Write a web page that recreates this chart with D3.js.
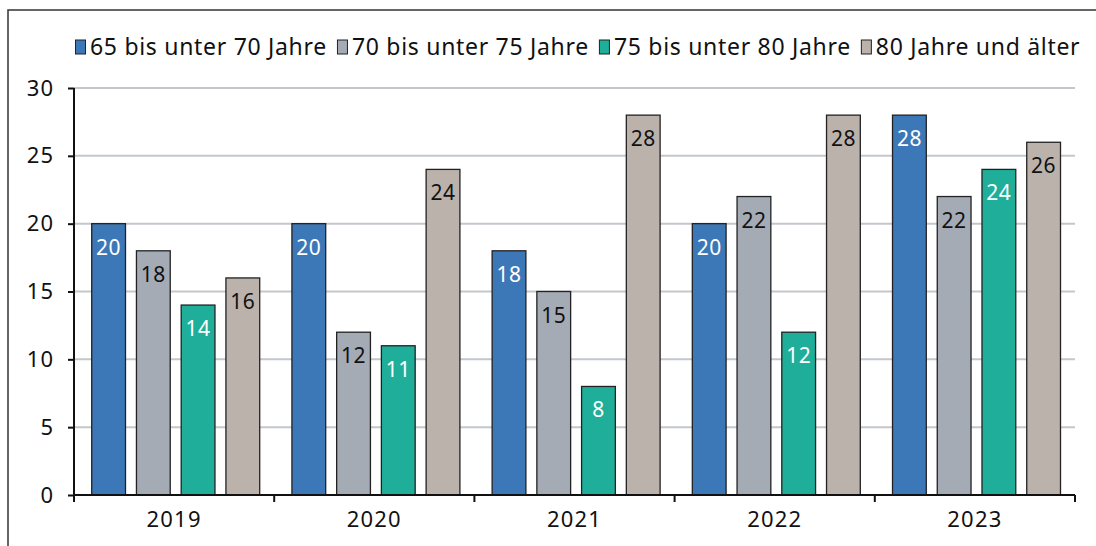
<!DOCTYPE html>
<html>
<head>
<meta charset="utf-8">
<script src="https://cdn.jsdelivr.net/npm/d3@7"></script>
<style>
  body { margin: 0; background: #fff; }
  svg text { font-family: "Noto Sans", Lato, sans-serif; }
</style>
</head>
<body>
<svg id="chart" width="1096" height="546"></svg>
<script>
const years = ['2019', '2020', '2021', '2022', '2023']
const seriesNames = ['65 bis unter 70 Jahre', '70 bis unter 75 Jahre', '75 bis unter 80 Jahre', '80 Jahre und älter']
const age65 = [20, 20, 18, 20, 28]
const age70 = [18, 12, 15, 22, 22]
const age75 = [14, 11, 8, 12, 24]
const age80 = [16, 24, 28, 28, 26]
const yTicks = [0, 5, 10, 15, 20, 25, 30]

const colors = ['#3c78b8', '#a4abb4', '#1fae9a', '#bab2ab']
const labelColors = ['#fff', '#111', '#fff', '#111']
const allSeries = [age65, age70, age75, age80]

const margin = { top: 88, right: 21, bottom: 51, left: 74 }
const width = 1096, height = 546
const svg = d3.select('#chart')

// outer frame
svg.append('path')
  .attr('d', `M8,${height} V10 H${width}`)
  .attr('fill', 'none').attr('stroke', '#333').attr('stroke-width', 1.5)

const x = d3.scaleBand().domain(years).range([margin.left, width - margin.right])
const xInner = d3.scaleBand().domain(d3.range(4)).range([0, x.bandwidth()])
  .paddingInner(0.245).paddingOuter(0.36).align(0.55)
const y = d3.scaleLinear().domain([0, 30]).range([height - margin.bottom, margin.top])

// gridlines
svg.append('g').selectAll('line').data(yTicks.filter(d => d > 0)).join('line')
  .attr('x1', margin.left).attr('x2', width - margin.right)
  .attr('y1', d => y(d)).attr('y2', d => y(d))
  .attr('stroke', '#c3c7cc').attr('stroke-width', 2)

// bars
const groups = svg.append('g').selectAll('g').data(years).join('g')
  .attr('transform', d => `translate(${x(d)},0)`)

groups.each(function (year, yi) {
  const g = d3.select(this)
  allSeries.forEach((s, si) => {
    const v = s[yi]
    g.append('rect')
      .attr('x', xInner(si)).attr('y', y(v))
      .attr('width', xInner.bandwidth()).attr('height', y(0) - y(v))
      .attr('fill', colors[si]).attr('stroke', '#222').attr('stroke-width', 1.3)
    g.append('text')
      .attr('x', xInner(si) + xInner.bandwidth() / 2).attr('y', y(v) + 31)
      .attr('text-anchor', 'middle').attr('font-size', 21).attr('letter-spacing', 0.5)
      .attr('fill', labelColors[si]).text(v)
  })
})

// y axis
const yAxis = svg.append('g').attr('transform', `translate(${margin.left},0)`)
  .call(d3.axisLeft(y).tickValues(yTicks).tickSize(6).tickPadding(14))
yAxis.select('.domain').attr('stroke', '#111').attr('stroke-width', 2).attr('d', `M0,${y(0)}V${y(30)}`)
yAxis.selectAll('.tick line').attr('stroke', '#111').attr('stroke-width', 2)
yAxis.selectAll('.tick text').attr('font-size', 22).attr('letter-spacing', 1).attr('fill', '#111')

// x axis
const xAxis = svg.append('g').attr('transform', `translate(0,${y(0)})`)
  .call(d3.axisBottom(x).tickSize(0).tickPadding(16))
xAxis.select('.domain').attr('stroke', '#111').attr('stroke-width', 2)
  .attr('d', `M${margin.left},0H${width - margin.right}`)
xAxis.selectAll('.tick text').attr('font-size', 22).attr('letter-spacing', 1.2).attr('fill', '#111')
const bounds = years.map(d => x(d)).concat([x(years[years.length - 1]) + x.bandwidth()])
xAxis.append('g').selectAll('line').data(bounds).join('line')
  .attr('x1', d => d).attr('x2', d => d).attr('y1', 0).attr('y2', 7)
  .attr('stroke', '#111').attr('stroke-width', 2)

// legend
const legend = svg.append('g').attr('transform', 'translate(75,47)')
let lx = 0
seriesNames.forEach((name, i) => {
  const item = legend.append('g').attr('transform', `translate(${lx},0)`)
  item.append('rect').attr('x', 0.5).attr('y', -7).attr('width', 10).attr('height', 14)
    .attr('fill', colors[i]).attr('stroke', '#222').attr('stroke-width', 1)
  const t = item.append('text').attr('x', 15).attr('y', 8)
    .attr('font-size', 23).attr('letter-spacing', 0.7).attr('fill', '#111').text(name)
  lx += 15 + t.node().getComputedTextLength() + 10
})
</script>
</body>
</html>
